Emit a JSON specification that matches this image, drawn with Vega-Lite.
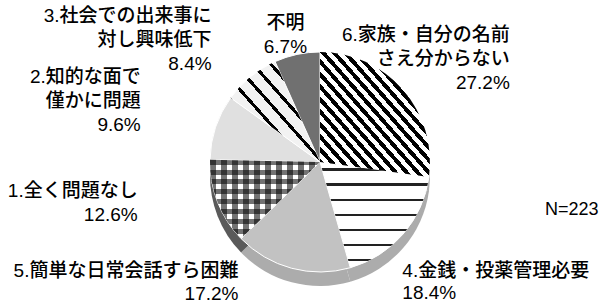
{
  "$schema": "https://vega.github.io/schema/vega-lite/v6.json",
  "width": 558,
  "height": 282,
  "autosize": {"type": "none"},
  "padding": {"left": 41, "top": 21, "right": 0, "bottom": 0},
  "background": "white",
  "config": {
    "view": {"stroke": null},
    "text": {"font": "Liberation Sans, Noto Sans CJK JP, sans-serif", "fontSize": 19, "fontWeight": 500, "lineHeight": 24, "lineBreak": "\n", "baseline": "middle", "color": "#000000"}
  },
  "data": {
    "values": [
      {"cat": "6", "k": 1, "pct": 27.2, "label": "6.家族・自分の名前\nさえ分からない\n27.2%"},
      {"cat": "4", "k": 2, "pct": 18.4, "label": "4.金銭・投薬管理必要\n18.4%"},
      {"cat": "5", "k": 3, "pct": 17.2, "label": "5.簡単な日常会話すら困難\n17.2%"},
      {"cat": "1", "k": 4, "pct": 12.6, "label": "1.全く問題なし\n12.6%"},
      {"cat": "2", "k": 5, "pct": 9.6, "label": "2.知的な面で\n僅かに問題\n9.6%"},
      {"cat": "3", "k": 6, "pct": 8.4, "label": "3.社会での出来事に\n対し興味低下\n8.4%"},
      {"cat": "不明", "k": 7, "pct": 6.7, "label": "不明\n6.7%"}
    ]
  },
  "layer": [
    {
      "mark": {"type": "arc", "radius": 110, "yOffset": 14},
      "encoding": {
        "theta": {"field": "pct", "type": "quantitative", "stack": true},
        "order": {"field": "k", "type": "quantitative"},
        "detail": {"field": "cat", "type": "nominal"},
        "fill": {"condition": {"test": "datum.cat === '1'", "value": "#5a5a5a"}, "value": "#acacac"}
      }
    },
    {
      "mark": {"type": "arc", "radius": 110, "stroke": "white", "strokeWidth": 1},
      "encoding": {
        "theta": {"field": "pct", "type": "quantitative", "stack": true},
        "order": {"field": "k", "type": "quantitative"},
        "color": {
          "field": "cat", "type": "nominal", "legend": null,
          "scale": {"domain": ["6", "4", "5", "1", "2", "3", "不明"],
                    "range": ["#ffffff", "#ffffff", "#c2c2c2", "#ffffff", "#e0e0e0", "#f2f2f2", "#707070"]}
        }
      }
    },
    {
      "mark": {"type": "arc", "radius": 110},
      "encoding": {
        "theta": {"field": "pct", "type": "quantitative", "stack": true},
        "order": {"field": "k", "type": "quantitative"},
        "detail": {"field": "cat", "type": "nominal"},
        "fill": {
          "condition": [
            {"test": "datum.cat === '6'", "value": {"gradient": "linear", "x1": 0, "y1": 1, "x2": 1, "y2": 0, "stops": [
              {"offset": 0, "color": "#000"}, {"offset": 0.024, "color": "#000"}, {"offset": 0.024, "color": "rgba(0,0,0,0)"}, {"offset": 0.05, "color": "rgba(0,0,0,0)"},
              {"offset": 0.05, "color": "#000"}, {"offset": 0.074, "color": "#000"}, {"offset": 0.074, "color": "rgba(0,0,0,0)"}, {"offset": 0.1, "color": "rgba(0,0,0,0)"},
              {"offset": 0.1, "color": "#000"}, {"offset": 0.124, "color": "#000"}, {"offset": 0.124, "color": "rgba(0,0,0,0)"}, {"offset": 0.15, "color": "rgba(0,0,0,0)"},
              {"offset": 0.15, "color": "#000"}, {"offset": 0.174, "color": "#000"}, {"offset": 0.174, "color": "rgba(0,0,0,0)"}, {"offset": 0.2, "color": "rgba(0,0,0,0)"},
              {"offset": 0.2, "color": "#000"}, {"offset": 0.224, "color": "#000"}, {"offset": 0.224, "color": "rgba(0,0,0,0)"}, {"offset": 0.25, "color": "rgba(0,0,0,0)"},
              {"offset": 0.25, "color": "#000"}, {"offset": 0.274, "color": "#000"}, {"offset": 0.274, "color": "rgba(0,0,0,0)"}, {"offset": 0.3, "color": "rgba(0,0,0,0)"},
              {"offset": 0.3, "color": "#000"}, {"offset": 0.324, "color": "#000"}, {"offset": 0.324, "color": "rgba(0,0,0,0)"}, {"offset": 0.35, "color": "rgba(0,0,0,0)"},
              {"offset": 0.35, "color": "#000"}, {"offset": 0.374, "color": "#000"}, {"offset": 0.374, "color": "rgba(0,0,0,0)"}, {"offset": 0.4, "color": "rgba(0,0,0,0)"},
              {"offset": 0.4, "color": "#000"}, {"offset": 0.424, "color": "#000"}, {"offset": 0.424, "color": "rgba(0,0,0,0)"}, {"offset": 0.45, "color": "rgba(0,0,0,0)"},
              {"offset": 0.45, "color": "#000"}, {"offset": 0.474, "color": "#000"}, {"offset": 0.474, "color": "rgba(0,0,0,0)"}, {"offset": 0.5, "color": "rgba(0,0,0,0)"},
              {"offset": 0.5, "color": "#000"}, {"offset": 0.524, "color": "#000"}, {"offset": 0.524, "color": "rgba(0,0,0,0)"}, {"offset": 0.55, "color": "rgba(0,0,0,0)"},
              {"offset": 0.55, "color": "#000"}, {"offset": 0.574, "color": "#000"}, {"offset": 0.574, "color": "rgba(0,0,0,0)"}, {"offset": 0.6, "color": "rgba(0,0,0,0)"},
              {"offset": 0.6, "color": "#000"}, {"offset": 0.624, "color": "#000"}, {"offset": 0.624, "color": "rgba(0,0,0,0)"}, {"offset": 0.65, "color": "rgba(0,0,0,0)"},
              {"offset": 0.65, "color": "#000"}, {"offset": 0.674, "color": "#000"}, {"offset": 0.674, "color": "rgba(0,0,0,0)"}, {"offset": 0.7, "color": "rgba(0,0,0,0)"},
              {"offset": 0.7, "color": "#000"}, {"offset": 0.724, "color": "#000"}, {"offset": 0.724, "color": "rgba(0,0,0,0)"}, {"offset": 0.75, "color": "rgba(0,0,0,0)"},
              {"offset": 0.75, "color": "#000"}, {"offset": 0.774, "color": "#000"}, {"offset": 0.774, "color": "rgba(0,0,0,0)"}, {"offset": 0.8, "color": "rgba(0,0,0,0)"},
              {"offset": 0.8, "color": "#000"}, {"offset": 0.824, "color": "#000"}, {"offset": 0.824, "color": "rgba(0,0,0,0)"}, {"offset": 0.85, "color": "rgba(0,0,0,0)"},
              {"offset": 0.85, "color": "#000"}, {"offset": 0.874, "color": "#000"}, {"offset": 0.874, "color": "rgba(0,0,0,0)"}, {"offset": 0.9, "color": "rgba(0,0,0,0)"},
              {"offset": 0.9, "color": "#000"}, {"offset": 0.924, "color": "#000"}, {"offset": 0.924, "color": "rgba(0,0,0,0)"}, {"offset": 0.95, "color": "rgba(0,0,0,0)"},
              {"offset": 0.95, "color": "#000"}, {"offset": 0.974, "color": "#000"}, {"offset": 0.974, "color": "rgba(0,0,0,0)"}, {"offset": 1, "color": "rgba(0,0,0,0)"}
            ]}},
            {"test": "datum.cat === '3'", "value": {"gradient": "linear", "x1": 0, "y1": 1, "x2": 1, "y2": 0, "stops": [
              {"offset": 0, "color": "#000"}, {"offset": 0.024, "color": "#000"}, {"offset": 0.024, "color": "rgba(0,0,0,0)"}, {"offset": 0.1, "color": "rgba(0,0,0,0)"},
              {"offset": 0.1, "color": "#000"}, {"offset": 0.124, "color": "#000"}, {"offset": 0.124, "color": "rgba(0,0,0,0)"}, {"offset": 0.2, "color": "rgba(0,0,0,0)"},
              {"offset": 0.2, "color": "#000"}, {"offset": 0.224, "color": "#000"}, {"offset": 0.224, "color": "rgba(0,0,0,0)"}, {"offset": 0.3, "color": "rgba(0,0,0,0)"},
              {"offset": 0.3, "color": "#000"}, {"offset": 0.324, "color": "#000"}, {"offset": 0.324, "color": "rgba(0,0,0,0)"}, {"offset": 0.4, "color": "rgba(0,0,0,0)"},
              {"offset": 0.4, "color": "#000"}, {"offset": 0.424, "color": "#000"}, {"offset": 0.424, "color": "rgba(0,0,0,0)"}, {"offset": 0.5, "color": "rgba(0,0,0,0)"},
              {"offset": 0.5, "color": "#000"}, {"offset": 0.524, "color": "#000"}, {"offset": 0.524, "color": "rgba(0,0,0,0)"}, {"offset": 0.6, "color": "rgba(0,0,0,0)"},
              {"offset": 0.6, "color": "#000"}, {"offset": 0.624, "color": "#000"}, {"offset": 0.624, "color": "rgba(0,0,0,0)"}, {"offset": 0.7, "color": "rgba(0,0,0,0)"},
              {"offset": 0.7, "color": "#000"}, {"offset": 0.724, "color": "#000"}, {"offset": 0.724, "color": "rgba(0,0,0,0)"}, {"offset": 0.8, "color": "rgba(0,0,0,0)"},
              {"offset": 0.8, "color": "#000"}, {"offset": 0.824, "color": "#000"}, {"offset": 0.824, "color": "rgba(0,0,0,0)"}, {"offset": 0.9, "color": "rgba(0,0,0,0)"},
              {"offset": 0.9, "color": "#000"}, {"offset": 0.924, "color": "#000"}, {"offset": 0.924, "color": "rgba(0,0,0,0)"}, {"offset": 1, "color": "rgba(0,0,0,0)"}
            ]}},
            {"test": "datum.cat === '4'", "value": {"gradient": "linear", "x1": 0, "y1": 0, "x2": 0, "y2": 1, "stops": [
              {"offset": 0, "color": "rgba(0,0,0,0)"}, {"offset": 0.06, "color": "rgba(0,0,0,0)"}, {"offset": 0.06, "color": "#222"}, {"offset": 0.082, "color": "#222"},
              {"offset": 0.082, "color": "rgba(0,0,0,0)"}, {"offset": 0.2029, "color": "rgba(0,0,0,0)"}, {"offset": 0.2029, "color": "#222"}, {"offset": 0.2249, "color": "#222"},
              {"offset": 0.2249, "color": "rgba(0,0,0,0)"}, {"offset": 0.3457, "color": "rgba(0,0,0,0)"}, {"offset": 0.3457, "color": "#222"}, {"offset": 0.3677, "color": "#222"},
              {"offset": 0.3677, "color": "rgba(0,0,0,0)"}, {"offset": 0.4886, "color": "rgba(0,0,0,0)"}, {"offset": 0.4886, "color": "#222"}, {"offset": 0.5106, "color": "#222"},
              {"offset": 0.5106, "color": "rgba(0,0,0,0)"}, {"offset": 0.6314, "color": "rgba(0,0,0,0)"}, {"offset": 0.6314, "color": "#222"}, {"offset": 0.6534, "color": "#222"},
              {"offset": 0.6534, "color": "rgba(0,0,0,0)"}, {"offset": 0.7743, "color": "rgba(0,0,0,0)"}, {"offset": 0.7743, "color": "#222"}, {"offset": 0.7963, "color": "#222"},
              {"offset": 0.7963, "color": "rgba(0,0,0,0)"}, {"offset": 0.9171, "color": "rgba(0,0,0,0)"}, {"offset": 0.9171, "color": "#222"}, {"offset": 0.9391, "color": "#222"},
              {"offset": 0.9391, "color": "rgba(0,0,0,0)"}, {"offset": 1, "color": "rgba(0,0,0,0)"}
            ]}},
            {"test": "datum.cat === '1'", "value": {"gradient": "linear", "x1": 0, "y1": 0, "x2": 1, "y2": 0, "stops": [
              {"offset": 0, "color": "rgba(0,0,0,0.55)"}, {"offset": 0.05, "color": "rgba(0,0,0,0.55)"}, {"offset": 0.05, "color": "rgba(0,0,0,0)"}, {"offset": 0.1, "color": "rgba(0,0,0,0)"},
              {"offset": 0.1, "color": "rgba(0,0,0,0.55)"}, {"offset": 0.15, "color": "rgba(0,0,0,0.55)"}, {"offset": 0.15, "color": "rgba(0,0,0,0)"}, {"offset": 0.2, "color": "rgba(0,0,0,0)"},
              {"offset": 0.2, "color": "rgba(0,0,0,0.55)"}, {"offset": 0.25, "color": "rgba(0,0,0,0.55)"}, {"offset": 0.25, "color": "rgba(0,0,0,0)"}, {"offset": 0.3, "color": "rgba(0,0,0,0)"},
              {"offset": 0.3, "color": "rgba(0,0,0,0.55)"}, {"offset": 0.35, "color": "rgba(0,0,0,0.55)"}, {"offset": 0.35, "color": "rgba(0,0,0,0)"}, {"offset": 0.4, "color": "rgba(0,0,0,0)"},
              {"offset": 0.4, "color": "rgba(0,0,0,0.55)"}, {"offset": 0.45, "color": "rgba(0,0,0,0.55)"}, {"offset": 0.45, "color": "rgba(0,0,0,0)"}, {"offset": 0.5, "color": "rgba(0,0,0,0)"},
              {"offset": 0.5, "color": "rgba(0,0,0,0.55)"}, {"offset": 0.55, "color": "rgba(0,0,0,0.55)"}, {"offset": 0.55, "color": "rgba(0,0,0,0)"}, {"offset": 0.6, "color": "rgba(0,0,0,0)"},
              {"offset": 0.6, "color": "rgba(0,0,0,0.55)"}, {"offset": 0.65, "color": "rgba(0,0,0,0.55)"}, {"offset": 0.65, "color": "rgba(0,0,0,0)"}, {"offset": 0.7, "color": "rgba(0,0,0,0)"},
              {"offset": 0.7, "color": "rgba(0,0,0,0.55)"}, {"offset": 0.75, "color": "rgba(0,0,0,0.55)"}, {"offset": 0.75, "color": "rgba(0,0,0,0)"}, {"offset": 0.8, "color": "rgba(0,0,0,0)"},
              {"offset": 0.8, "color": "rgba(0,0,0,0.55)"}, {"offset": 0.85, "color": "rgba(0,0,0,0.55)"}, {"offset": 0.85, "color": "rgba(0,0,0,0)"}, {"offset": 0.9, "color": "rgba(0,0,0,0)"},
              {"offset": 0.9, "color": "rgba(0,0,0,0.55)"}, {"offset": 0.95, "color": "rgba(0,0,0,0.55)"}, {"offset": 0.95, "color": "rgba(0,0,0,0)"}, {"offset": 1, "color": "rgba(0,0,0,0)"}
            ]}}
          ],
          "value": "transparent"
        }
      }
    },
    {
      "mark": {"type": "arc", "radius": 110},
      "encoding": {
        "theta": {"field": "pct", "type": "quantitative", "stack": true},
        "order": {"field": "k", "type": "quantitative"},
        "detail": {"field": "cat", "type": "nominal"},
        "fill": {
          "condition": {"test": "datum.cat === '1'", "value": {"gradient": "linear", "x1": 0, "y1": 0, "x2": 0, "y2": 1, "stops": [
            {"offset": 0, "color": "rgba(0,0,0,0.55)"}, {"offset": 0.0625, "color": "rgba(0,0,0,0.55)"}, {"offset": 0.0625, "color": "rgba(0,0,0,0)"}, {"offset": 0.125, "color": "rgba(0,0,0,0)"},
            {"offset": 0.125, "color": "rgba(0,0,0,0.55)"}, {"offset": 0.1875, "color": "rgba(0,0,0,0.55)"}, {"offset": 0.1875, "color": "rgba(0,0,0,0)"}, {"offset": 0.25, "color": "rgba(0,0,0,0)"},
            {"offset": 0.25, "color": "rgba(0,0,0,0.55)"}, {"offset": 0.3125, "color": "rgba(0,0,0,0.55)"}, {"offset": 0.3125, "color": "rgba(0,0,0,0)"}, {"offset": 0.375, "color": "rgba(0,0,0,0)"},
            {"offset": 0.375, "color": "rgba(0,0,0,0.55)"}, {"offset": 0.4375, "color": "rgba(0,0,0,0.55)"}, {"offset": 0.4375, "color": "rgba(0,0,0,0)"}, {"offset": 0.5, "color": "rgba(0,0,0,0)"},
            {"offset": 0.5, "color": "rgba(0,0,0,0.55)"}, {"offset": 0.5625, "color": "rgba(0,0,0,0.55)"}, {"offset": 0.5625, "color": "rgba(0,0,0,0)"}, {"offset": 0.625, "color": "rgba(0,0,0,0)"},
            {"offset": 0.625, "color": "rgba(0,0,0,0.55)"}, {"offset": 0.6875, "color": "rgba(0,0,0,0.55)"}, {"offset": 0.6875, "color": "rgba(0,0,0,0)"}, {"offset": 0.75, "color": "rgba(0,0,0,0)"},
            {"offset": 0.75, "color": "rgba(0,0,0,0.55)"}, {"offset": 0.8125, "color": "rgba(0,0,0,0.55)"}, {"offset": 0.8125, "color": "rgba(0,0,0,0)"}, {"offset": 0.875, "color": "rgba(0,0,0,0)"},
            {"offset": 0.875, "color": "rgba(0,0,0,0.55)"}, {"offset": 0.9375, "color": "rgba(0,0,0,0.55)"}, {"offset": 0.9375, "color": "rgba(0,0,0,0)"}, {"offset": 1, "color": "rgba(0,0,0,0)"}
          ]}},
          "value": "transparent"
        }
      }
    },
    {
      "mark": {"type": "text", "radius": 216, "align": "right", "dx": 27, "dy": 15},
      "encoding": {
        "theta": {"field": "pct", "type": "quantitative", "stack": true},
        "order": {"field": "k", "type": "quantitative"},
        "detail": {"field": "cat", "type": "nominal"},
        "text": {"condition": {"test": "datum.cat === '6'", "field": "label"}, "value": ""}
      }
    },
    {
      "mark": {"type": "text", "radius": 137, "align": "center", "dx": -6, "dy": -5},
      "encoding": {
        "theta": {"field": "pct", "type": "quantitative", "stack": true},
        "order": {"field": "k", "type": "quantitative"},
        "detail": {"field": "cat", "type": "nominal"},
        "text": {"condition": {"test": "datum.cat === '不明'", "field": "label"}, "value": ""}
      }
    },
    {
      "mark": {"type": "text", "radius": 162, "align": "right", "dx": -6, "dy": -20},
      "encoding": {
        "theta": {"field": "pct", "type": "quantitative", "stack": true},
        "order": {"field": "k", "type": "quantitative"},
        "detail": {"field": "cat", "type": "nominal"},
        "text": {"condition": {"test": "datum.cat === '3'", "field": "label"}, "value": ""}
      }
    },
    {
      "mark": {"type": "text", "radius": 190, "align": "right", "dx": 1, "dy": -25},
      "encoding": {
        "theta": {"field": "pct", "type": "quantitative", "stack": true},
        "order": {"field": "k", "type": "quantitative"},
        "detail": {"field": "cat", "type": "nominal"},
        "text": {"condition": {"test": "datum.cat === '2'", "field": "label"}, "value": ""}
      }
    },
    {
      "mark": {"type": "text", "radius": 183, "align": "right", "dx": -12, "dy": -38},
      "encoding": {
        "theta": {"field": "pct", "type": "quantitative", "stack": true},
        "order": {"field": "k", "type": "quantitative"},
        "detail": {"field": "cat", "type": "nominal"},
        "text": {"condition": {"test": "datum.cat === '1'", "field": "label"}, "value": ""}
      }
    },
    {
      "mark": {"type": "text", "radius": 138, "align": "right", "dx": -46, "dy": -24, "lineHeight": 23},
      "encoding": {
        "theta": {"field": "pct", "type": "quantitative", "stack": true},
        "order": {"field": "k", "type": "quantitative"},
        "detail": {"field": "cat", "type": "nominal"},
        "text": {"condition": {"test": "datum.cat === '5'", "field": "label"}, "value": ""}
      }
    },
    {
      "mark": {"type": "text", "radius": 142, "align": "left", "dx": -25, "dy": 16, "lineHeight": 22},
      "encoding": {
        "theta": {"field": "pct", "type": "quantitative", "stack": true},
        "order": {"field": "k", "type": "quantitative"},
        "detail": {"field": "cat", "type": "nominal"},
        "text": {"condition": {"test": "datum.cat === '4'", "field": "label"}, "value": ""}
      }
    },
    {
      "data": {"values": [{"n": "N=223"}]},
      "mark": {"type": "text", "align": "left", "dx": 225, "dy": 48, "fontSize": 18},
      "encoding": {"text": {"field": "n", "type": "nominal"}}
    }
  ]
}
